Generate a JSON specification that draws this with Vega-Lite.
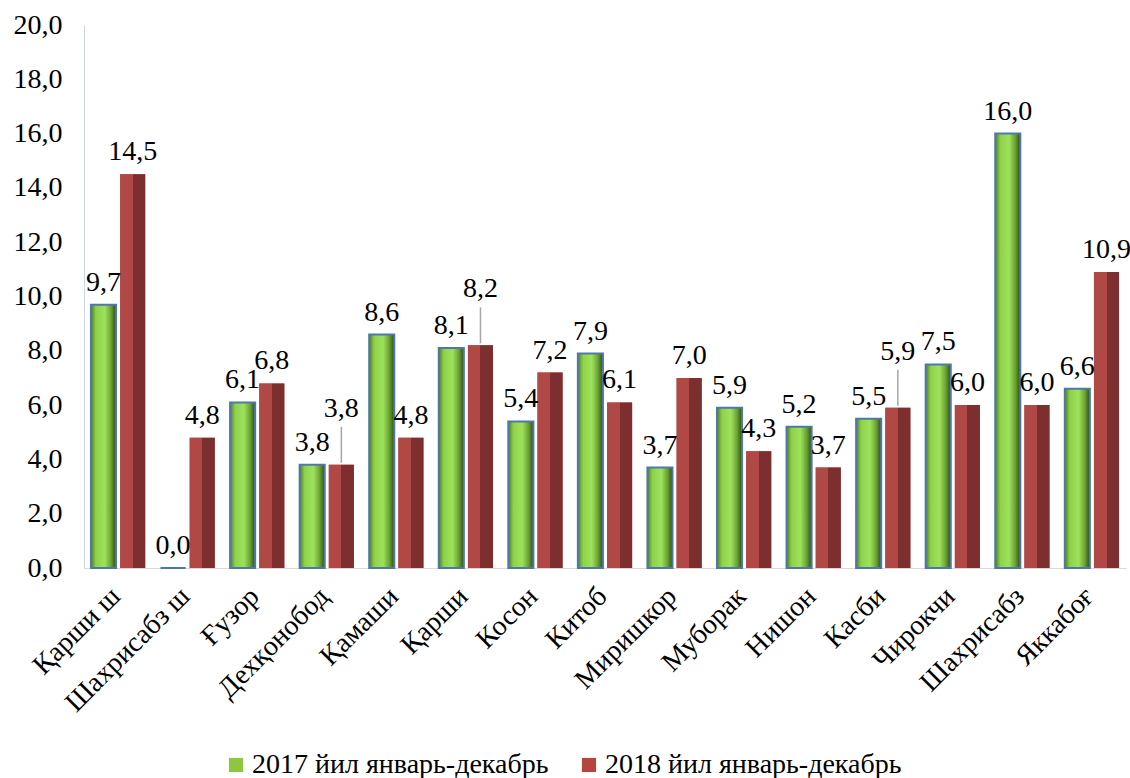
{
  "$schema": "https://vega.github.io/schema/vega-lite/v6.json",
  "width": 1042,
  "height": 543,
  "autosize": "none",
  "padding": {"left": 84, "top": 25, "right": 4, "bottom": 210},
  "background": "white",
  "config": {
    "view": {"stroke": null},
    "font": "Liberation Serif",
    "text": {"font": "Liberation Serif"},
    "locale": {"number": {"decimal": ",", "thousands": " ", "grouping": [3], "currency": ["", ""]}}
  },
  "data": {"values": [
    {"district": "Қарши ш", "series": "2017 йил январь-декабрь", "value": 9.7},
    {"district": "Қарши ш", "series": "2018 йил январь-декабрь", "value": 14.5},
    {"district": "Шахрисабз ш", "series": "2017 йил январь-декабрь", "value": 0.0},
    {"district": "Шахрисабз ш", "series": "2018 йил январь-декабрь", "value": 4.8},
    {"district": "Ғузор", "series": "2017 йил январь-декабрь", "value": 6.1},
    {"district": "Ғузор", "series": "2018 йил январь-декабрь", "value": 6.8},
    {"district": "Дехқонобод", "series": "2017 йил январь-декабрь", "value": 3.8},
    {"district": "Дехқонобод", "series": "2018 йил январь-декабрь", "value": 3.8},
    {"district": "Қамаши", "series": "2017 йил январь-декабрь", "value": 8.6},
    {"district": "Қамаши", "series": "2018 йил январь-декабрь", "value": 4.8},
    {"district": "Қарши", "series": "2017 йил январь-декабрь", "value": 8.1},
    {"district": "Қарши", "series": "2018 йил январь-декабрь", "value": 8.2},
    {"district": "Косон", "series": "2017 йил январь-декабрь", "value": 5.4},
    {"district": "Косон", "series": "2018 йил январь-декабрь", "value": 7.2},
    {"district": "Китоб", "series": "2017 йил январь-декабрь", "value": 7.9},
    {"district": "Китоб", "series": "2018 йил январь-декабрь", "value": 6.1},
    {"district": "Миришкор", "series": "2017 йил январь-декабрь", "value": 3.7},
    {"district": "Миришкор", "series": "2018 йил январь-декабрь", "value": 7.0},
    {"district": "Муборак", "series": "2017 йил январь-декабрь", "value": 5.9},
    {"district": "Муборак", "series": "2018 йил январь-декабрь", "value": 4.3},
    {"district": "Нишон", "series": "2017 йил январь-декабрь", "value": 5.2},
    {"district": "Нишон", "series": "2018 йил январь-декабрь", "value": 3.7},
    {"district": "Касби", "series": "2017 йил январь-декабрь", "value": 5.5},
    {"district": "Касби", "series": "2018 йил январь-декабрь", "value": 5.9},
    {"district": "Чирокчи", "series": "2017 йил январь-декабрь", "value": 7.5},
    {"district": "Чирокчи", "series": "2018 йил январь-декабрь", "value": 6.0},
    {"district": "Шахрисабз", "series": "2017 йил январь-декабрь", "value": 16.0},
    {"district": "Шахрисабз", "series": "2018 йил январь-декабрь", "value": 6.0},
    {"district": "Яккабоғ", "series": "2017 йил январь-декабрь", "value": 6.6},
    {"district": "Яккабоғ", "series": "2018 йил январь-декабрь", "value": 10.9}
  ]},
  "encoding": {
    "x": {
      "field": "district", "type": "nominal", "sort": null,
      "scale": {"paddingInner": 0.22, "paddingOuter": 0.1},
      "axis": {
        "title": null, "labelAngle": -45, "labelFontSize": 28, "labelColor": "black",
        "labelFont": "Liberation Serif", "ticks": false, "domainColor": "#d9d9d9",
        "labelPadding": 14, "labelOffset": -12, "labelAlign": "right", "labelBaseline": "top"
      }
    },
    "xOffset": {"field": "series", "type": "nominal", "scale": {"paddingInner": 0.14}},
    "y": {
      "field": "value", "type": "quantitative",
      "scale": {"domain": [0, 20], "nice": false},
      "axis": {
        "title": null, "values": [0, 2, 4, 6, 8, 10, 12, 14, 16, 18, 20],
        "format": ".1f",
        "labelFontSize": 28, "labelColor": "black", "labelFont": "Liberation Serif",
        "grid": false, "ticks": false, "domainColor": "#c9d8ec", "labelPadding": 22
      }
    }
  },
  "layer": [
    {
      "mark": {"type": "bar"},
      "encoding": {
        "color": {
          "field": "series", "type": "nominal",
          "scale": {"range": ["#8dc63f", "#b5453f"]},
          "legend": {
            "title": null, "orient": "none", "legendX": 138, "legendY": 726,
            "direction": "horizontal", "columns": 2, "columnPadding": 26,
            "labelFontSize": 28, "labelFont": "Liberation Serif", "labelColor": "black",
            "symbolType": "square", "symbolSize": 200, "symbolStrokeWidth": 0,
            "labelOffset": 2, "labelLimit": 400
          }
        }
      }
    },
    {
      "transform": [{"filter": "datum.series == '2017 йил январь-декабрь'"}],
      "mark": {
        "type": "bar", "stroke": "#4e78aa", "strokeWidth": 2,
        "fill": {
          "x1": 0, "y1": 0, "x2": 1, "y2": 0, "gradient": "linear",
          "stops": [
            {"offset": 0, "color": "#4f7f22"},
            {"offset": 0.2, "color": "#8fd14a"},
            {"offset": 0.55, "color": "#9ee25c"},
            {"offset": 0.8, "color": "#6aa332"},
            {"offset": 1, "color": "#2e4a18"}
          ]
        }
      }
    },
    {
      "transform": [{"filter": "datum.series == '2018 йил январь-декабрь'"}],
      "mark": {
        "type": "bar",
        "fill": {
          "x1": 0, "y1": 0, "x2": 1, "y2": 0, "gradient": "linear",
          "stops": [
            {"offset": 0, "color": "#b04846"},
            {"offset": 0.5, "color": "#b04846"},
            {"offset": 0.5, "color": "#7c2f2e"},
            {"offset": 1, "color": "#7c2f2e"}
          ]
        }
      }
    },
    {
      "transform": [{"filter": "!(datum.series == '2018 йил январь-декабрь' && indexof(['Дехқонобод', 'Қарши', 'Касби'], datum.district) >= 0)"}],
      "mark": {"type": "text", "baseline": "bottom", "dy": -8, "fontSize": 28, "font": "Liberation Serif", "color": "black"},
      "encoding": {
        "text": {"field": "value", "type": "quantitative", "format": ".1f"}
      }
    },
    {
      "transform": [{"filter": "datum.series == '2018 йил январь-декабрь' && indexof(['Дехқонобод', 'Қарши', 'Касби'], datum.district) >= 0"}],
      "mark": {"type": "text", "baseline": "bottom", "dy": -42, "fontSize": 28, "font": "Liberation Serif", "color": "black"},
      "encoding": {
        "text": {"field": "value", "type": "quantitative", "format": ".1f"}
      }
    },
    {
      "transform": [{"filter": "datum.series == '2018 йил январь-декабрь' && indexof(['Дехқонобод', 'Қарши', 'Касби'], datum.district) >= 0"}],
      "mark": {"type": "rule", "color": "#a6a6a6", "strokeWidth": 1.5, "yOffset": -2, "y2Offset": -38},
      "encoding": {
        "y2": {"field": "value"}
      }
    }
  ]
}
